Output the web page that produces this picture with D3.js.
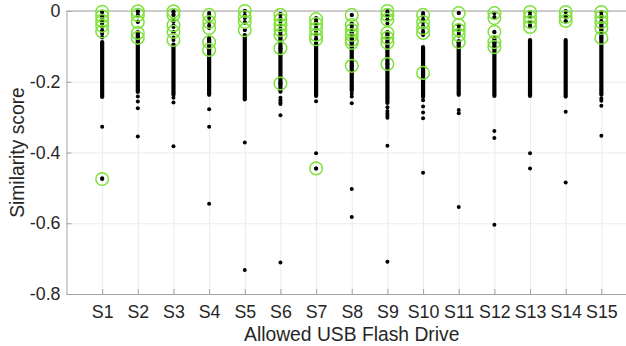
<!DOCTYPE html>
<html>
<head>
<meta charset="utf-8">
<script src="https://cdn.jsdelivr.net/npm/d3@7"></script>
<style>
  html, body { margin: 0; padding: 0; background: #fff; }
  svg { display: block; font-family: "Liberation Sans", Arial, Helvetica, sans-serif; }
</style>
</head>
<body>
<svg id="chart" width="626" height="346"></svg>
<script>
// ---- data ----
const categories = ["S1","S2","S3","S4","S5","S6","S7","S8","S9","S10","S11","S12","S13","S14","S15"];
const yTicks = [0, -0.2, -0.4, -0.6, -0.8];

// solid band of (many overlapping) scores
const denseTop    = [-0.088, -0.060, -0.095, -0.076, -0.068, -0.068, -0.090, -0.060, -0.060, -0.102, -0.085, -0.075, -0.082, -0.082, -0.030];
const denseBottom = [-0.243, -0.229, -0.237, -0.237, -0.250, -0.228, -0.240, -0.225, -0.260, -0.243, -0.237, -0.240, -0.240, -0.242, -0.237];

// separate scores above the band
const upperDots = [
  [-0.003, -0.012, -0.020, -0.028, -0.036, -0.045, -0.055, -0.065, -0.075],
  [-0.002, -0.011, -0.030],
  [-0.003, -0.010, -0.020, -0.030, -0.045, -0.060, -0.075],
  [-0.006, -0.020, -0.040],
  [0.000, -0.011, -0.020, -0.034, -0.054],
  [-0.008, -0.020, -0.030, -0.040, -0.050, -0.060],
  [-0.020, -0.030, -0.045, -0.058, -0.068, -0.078],
  [-0.011, -0.035, -0.045],
  [-0.003, -0.011, -0.015, -0.025, -0.035],
  [-0.006, -0.014, -0.023, -0.031, -0.042, -0.057, -0.068],
  [-0.006, -0.042, -0.050, -0.062, -0.070],
  [-0.006, -0.017, -0.060],
  [-0.003, -0.011, -0.034, -0.040],
  [0.000, -0.011, -0.017, -0.030],
  [-0.003, -0.012, -0.020]
];

// separate scores below the band
const lowerDots = [
  [-0.327, -0.473],
  [-0.242, -0.256, -0.275, -0.355],
  [-0.245, -0.259, -0.382],
  [-0.278, -0.327, -0.545],
  [-0.372, -0.732],
  [-0.245, -0.252, -0.259, -0.263, -0.295, -0.711],
  [-0.255, -0.402, -0.445],
  [-0.233, -0.242, -0.261, -0.503, -0.582],
  [-0.272, -0.283, -0.290, -0.296, -0.302, -0.381, -0.709],
  [-0.252, -0.270, -0.287, -0.303, -0.457],
  [-0.280, -0.289, -0.554],
  [-0.339, -0.359, -0.604],
  [-0.402, -0.445],
  [-0.285, -0.485],
  [-0.247, -0.254, -0.268, -0.353]
];

// highlighted scores (green circles)
const highlighted = [
  [-0.002, -0.015, -0.028, -0.042, -0.058, -0.475],
  [-0.001, -0.011, -0.031, -0.062, -0.076],
  [-0.001, -0.011, -0.040, -0.059, -0.082],
  [-0.011, -0.031, -0.048, -0.088, -0.110],
  [0.000, -0.017, -0.031, -0.054],
  [-0.011, -0.025, -0.040, -0.054, -0.068, -0.105, -0.205],
  [-0.023, -0.037, -0.051, -0.068, -0.080, -0.445],
  [-0.011, -0.040, -0.054, -0.068, -0.082, -0.090, -0.155],
  [0.000, -0.011, -0.025, -0.062, -0.076, -0.090, -0.150],
  [-0.011, -0.031, -0.048, -0.062, -0.175],
  [-0.006, -0.040, -0.054, -0.068, -0.088],
  [-0.006, -0.020, -0.059, -0.088, -0.102],
  [-0.003, -0.017, -0.031, -0.045],
  [-0.003, -0.017, -0.028],
  [-0.003, -0.017, -0.031, -0.048, -0.076]
];

const xLabel = "Allowed USB Flash Drive";
const yLabel = "Similarity score";

// ---- layout ----
const svg = d3.select("#chart");
const mLeft = 66.5, mTop = 11, mBottom = 294;
const x = d3.scaleLinear().domain([0, 16]).range([mLeft, 637]);
const y = d3.scaleLinear().domain([-0.8, 0]).range([mBottom, mTop]);
const xIdx = i => x(i + 1);

const axisColor = "#a3a3a3", textColor = "#262626", gridColor = "#ebebeb";

// grid
svg.append("g").attr("transform", `translate(0,${mBottom})`)
  .call(d3.axisBottom(x).tickValues(categories.map((c, i) => i + 1)).tickSize(-(mBottom - mTop)).tickFormat(""))
  .call(g => { g.select(".domain").remove(); g.selectAll("line").attr("stroke", gridColor); });
svg.append("g").attr("transform", `translate(${mLeft},0)`)
  .call(d3.axisLeft(y).tickValues(yTicks).tickSize(-(640 - mLeft)).tickFormat(""))
  .call(g => { g.select(".domain").remove(); g.selectAll("line").attr("stroke", gridColor); });

// top box line
svg.append("line").attr("x1", mLeft).attr("x2", 626).attr("y1", mTop).attr("y2", mTop)
  .attr("stroke", axisColor).attr("stroke-width", 1);

// axes
const xAxis = svg.append("g").attr("transform", `translate(0,${mBottom})`)
  .call(d3.axisBottom(x).tickValues(categories.map((c, i) => i + 1))
        .tickFormat((d) => categories[d - 1]).tickSize(-5).tickPadding(11).tickSizeOuter(0));
const yAxis = svg.append("g").attr("transform", `translate(${mLeft},0)`)
  .call(d3.axisLeft(y).tickValues(yTicks)
        .tickFormat(d => d === 0 ? "0" : d.toFixed(1)).tickSize(-5).tickPadding(6).tickSizeOuter(0));
[xAxis, yAxis].forEach(g => {
  g.select(".domain").attr("stroke", axisColor);
  g.selectAll(".tick line").attr("stroke", axisColor);
  g.selectAll(".tick text").attr("fill", textColor).style("font-size", "17.8px");
});

// dense bands
svg.append("g").selectAll("line").data(categories).join("line")
  .attr("x1", (d, i) => xIdx(i)).attr("x2", (d, i) => xIdx(i))
  .attr("y1", (d, i) => y(denseTop[i])).attr("y2", (d, i) => y(denseBottom[i]))
  .attr("stroke", "#000").attr("stroke-width", 4.2).attr("stroke-linecap", "round");

// individual dots
const dots = [];
categories.forEach((c, i) => {
  upperDots[i].forEach(v => dots.push([i, v]));
  lowerDots[i].forEach(v => dots.push([i, v]));
  highlighted[i].forEach(v => dots.push([i, v]));
});
svg.append("g").selectAll("circle").data(dots).join("circle")
  .attr("cx", d => xIdx(d[0])).attr("cy", d => y(d[1])).attr("r", 2).attr("fill", "#000");

// highlight circles
const rings = [];
categories.forEach((c, i) => highlighted[i].forEach(v => rings.push([i, v])));
svg.append("g").selectAll("circle").data(rings).join("circle")
  .attr("cx", d => xIdx(d[0])).attr("cy", d => y(d[1])).attr("r", 6.3)
  .attr("fill", "none").attr("stroke", "#7fe23c").attr("stroke-width", 1.5);

// axis labels
svg.append("text").attr("x", x(8)).attr("y", 341).attr("text-anchor", "middle")
  .attr("fill", textColor).style("font-size", "19.3px").text(xLabel);
svg.append("text").attr("transform", `translate(24,${(mTop + mBottom) / 2}) rotate(-90)`)
  .attr("text-anchor", "middle").attr("fill", textColor).style("font-size", "19.3px").text(yLabel);
</script>
</body>
</html>
